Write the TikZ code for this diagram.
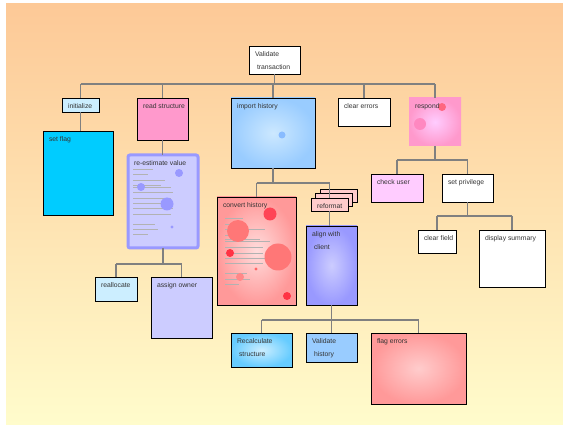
\documentclass[tikz,border=0pt]{standalone}
\usepackage{fontspec}
\setmainfont{Liberation Sans}
\usetikzlibrary{shadows}
\definecolor{bgtop}{HTML}{FDC997}
\definecolor{bgbot}{HTML}{FFFCCC}
\definecolor{linec}{HTML}{808080}
\definecolor{txt}{HTML}{333333}
\definecolor{lblue}{HTML}{CCEEFF}
\definecolor{pinkA}{HTML}{FF99CC}
\definecolor{pinkB}{HTML}{FFCCFF}
\definecolor{cyanA}{HTML}{00CCFF}
\definecolor{lav}{HTML}{CCCCFF}
\definecolor{lavD}{HTML}{9999FF}
\definecolor{skyA}{HTML}{99CCFF}
\definecolor{skyB}{HTML}{CCE8FF}
\definecolor{redA}{HTML}{FF9999}
\definecolor{redB}{HTML}{FFDDDD}
\definecolor{roseA}{HTML}{FFCCCC}
\definecolor{blueR}{HTML}{66CCFF}
\definecolor{dotB}{HTML}{88BBFF}
\definecolor{dotP1}{HTML}{FF88C0}
\definecolor{dotP2}{HTML}{FF6680}
\definecolor{dotR1}{HTML}{FF4455}
\definecolor{dotR2}{HTML}{FF7777}
\definecolor{dotR3}{HTML}{FF3344}
\definecolor{dotR4}{HTML}{FF6666}
\definecolor{dotR5}{HTML}{FF8888}
\tikzset{
  box/.style={draw=black, line width=0.9pt, inner sep=0pt, outer sep=0pt},
  sh/.style={drop shadow={shadow xshift=1pt,shadow yshift=-1pt,fill=black!55,opacity=1}},
  lbl/.style={anchor=base west, inner sep=0pt, outer sep=0pt, font=\fontsize{6.8}{7}\selectfont, text=txt},
  conn/.style={draw=linec, line width=1.6pt},
  scrib/.style={draw=black!30, line width=0.3pt},
}
% name, x, y, w, h, style
\newcommand{\bx}[6]{\node[box,#6,anchor=north west,minimum width=#4pt,minimum height=#5pt] (#1) at (#2,#3) {};}
% labels
\newcommand{\lb}[2]{\node[lbl] (#1-t) at ([xshift=6pt,yshift=-10.5pt]#1.north west) {#2};}
\newcommand{\lbb}[3]{\node[lbl] (#1-t) at ([xshift=6pt,yshift=-10.5pt]#1.north west) {#2};
  \node[lbl] (#1-u) at ([xshift=8pt,yshift=-23.5pt]#1.north west) {#3};}
\begin{document}
\begin{tikzpicture}[x=1pt,y=-1pt]
\useasboundingbox (0,0) rectangle (563,425);
\fill[top color=bgtop, bottom color=bgbot] (6,4) rectangle (563,425);

% bus coordinates
\coordinate (b0) at (0,84);
\coordinate (b1) at (0,183);
\coordinate (b2) at (0,160);
\coordinate (b3) at (0,216);
\coordinate (b4) at (0,264);
\coordinate (b5) at (0,320);

% boxes
\bx{vt}{249}{46}{51}{28}{sh,fill=white}
\bx{init}{62}{98}{37}{14}{sh,fill=lblue}
\bx{rs}{137}{98}{51}{42}{sh,fill=pinkA}
\bx{ih}{231}{98}{84}{70}{sh,shading=radial,inner color=skyB,outer color=skyA}
\bx{ce}{338}{98}{52}{28}{sh,fill=white}
\bx{resp}{409}{98}{52}{48}{draw=none,shading=radial,inner color=pinkB,outer color=pinkA}
\bx{sf}{43}{131}{70}{84}{sh,fill=cyanA}
\bx{rev}{128}{155}{70}{93}{draw=lavD,line width=3pt,rounded corners=2pt,fill=lav}
\bx{ch}{217}{197}{79}{108}{sh,shading=radial,inner color=redB,outer color=redA}
\bx{ref}{311}{198}{37}{13}{fill=roseA,
  double copy shadow={shadow xshift=4.5pt,shadow yshift=4.5pt,fill=roseA,draw=black,line width=0.9pt}}
\bx{al}{306}{226}{51}{79}{sh,shading=radial,inner color=lav,outer color=lavD}
\bx{cu}{371}{174}{52}{28}{sh,fill=pinkB}
\bx{sp}{442}{174}{51}{28}{sh,fill=white}
\bx{cf}{418}{230}{38}{23}{sh,fill=white}
\bx{ds}{479}{230}{66}{57}{sh,fill=white}
\bx{ra}{95}{277}{42}{24}{sh,fill=lblue}
\bx{ao}{151}{277}{61}{61}{sh,fill=lav}
\bx{rc}{231}{333}{61}{34}{sh,shading=radial,inner color=lblue,outer color=blueR}
\bx{vh}{306}{333}{51}{29}{sh,fill=skyA}
\bx{fe}{371}{333}{95}{71}{sh,shading=radial,inner color=roseA,outer color=redA}

% decorations inside boxes
\fill[dotB] (282,135) circle (3.5);
\fill[dotP1] (420,124) circle (6);
\fill[dotP2] (442,107) circle (4);
\foreach \yy/\ll in {169/20,174/15,180/32,185/28,187/38,192/40,198/38,203/38,208/40,214/38,224/22,229/25,234/15}
  \draw[scrib] (133,\yy) -- ++(\ll,0);
\fill[lavD] (179,173) circle (4);
\fill[lavD] (141,187) circle (4);
\fill[lavD] (167,204) circle (6.5);
\fill[lavD] (172,227) circle (1.7);
\foreach \yy/\ll in {218/18,224/10,229/40,235/10,239/35,241/45,247/38,253/38,258/45,263/38,273/22,279/25,284/14}
  \draw[scrib] (225,\yy) -- ++(\ll,0);
\fill[dotR1] (270,214) circle (6.5);
\fill[dotR2] (238,231) circle (11);
\fill[dotR3] (230,253) circle (4);
\fill[dotR2] (278,257) circle (13.5);
\fill[dotR4] (256,269) circle (1.7);
\fill[dotR5] (240,277) circle (4);
\fill[dotR3] (287,296) circle (4);

% labels
\lbb{vt}{Validate}{transaction}
\lb{init}{initialize}
\lb{rs}{read structure}
\lb{ih}{import history}
\lb{ce}{clear errors}
\lb{resp}{respond}
\lb{sf}{set flag}
\lb{rev}{re-estimate value}
\lb{ch}{convert history}
\lb{ref}{reformat}
\lbb{al}{align with}{client}
\lb{cu}{check user}
\lb{sp}{set privilege}
\lb{cf}{clear field}
\lb{ds}{display summary}
\lb{ra}{reallocate}
\lb{ao}{assign owner}
\lbb{rc}{Recalculate}{structure}
\lbb{vh}{Validate}{history}
\lb{fe}{flag errors}

% connectors
\draw[conn] (vt.south) -- (vt.south |- b0);
\foreach \c in {init,rs,ih,ce,resp}
  \draw[conn] (\c.north) -- (\c.north |- b0);
\draw[conn] (init.north |- b0) -- (resp.north |- b0);
\draw[conn] (init.south) -- (init.south |- sf.north);
\draw[conn] (rs.south) -- (rs.south |- rev.north);
\draw[conn] (ih.south) -- (ih.south |- b1);
\draw[conn] (ch.north |- b1) -- (ch.north);
\draw[conn] (ref.north |- b1) -- (ref.north);
\draw[conn] (ch.north |- b1) -- (ref.north |- b1);
\draw[conn] (ref.south) -- (ref.south |- al.north);
\draw[conn] (resp.south) -- (resp.south |- b2);
\draw[conn] (cu.north |- b2) -- (cu.north);
\draw[conn] (sp.north |- b2) -- (sp.north);
\draw[conn] (cu.north |- b2) -- (sp.north |- b2);
\draw[conn] (sp.south) -- (sp.south |- b3);
\draw[conn] (cf.north |- b3) -- (cf.north);
\draw[conn] (ds.north |- b3) -- (ds.north);
\draw[conn] (cf.north |- b3) -- (ds.north |- b3);
\draw[conn] (rev.south) -- (rev.south |- b4);
\draw[conn] (ra.north |- b4) -- (ra.north);
\draw[conn] (ao.north |- b4) -- (ao.north);
\draw[conn] (ra.north |- b4) -- (ao.north |- b4);
\draw[conn] (al.south) -- (al.south |- b5);
\draw[conn] (rc.north |- b5) -- (rc.north);
\draw[conn] (vh.north |- b5) -- (vh.north);
\draw[conn] (fe.north |- b5) -- (fe.north);
\draw[conn] (rc.north |- b5) -- (fe.north |- b5);
\end{tikzpicture}
\end{document}
